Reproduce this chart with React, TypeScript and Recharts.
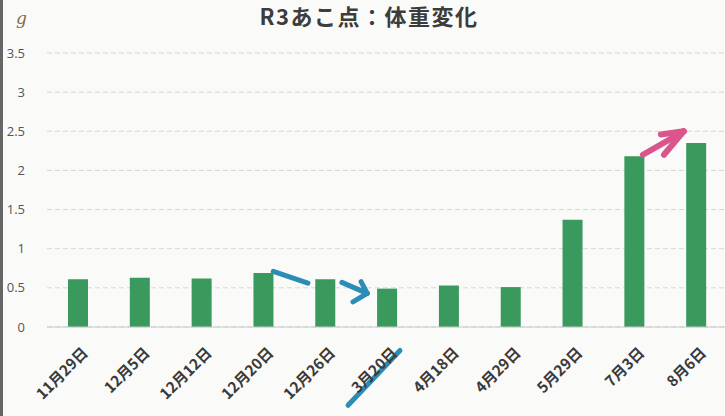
import React from "react";
import { BarChart, Bar, XAxis, YAxis, CartesianGrid, ReferenceLine } from "recharts";

const categories = ["11月29日", "12月5日", "12月12日", "12月20日", "12月26日", "3月20日", "4月18日", "4月29日", "5月29日", "7月3日", "8月6日"];
const weights = [0.61, 0.63, 0.62, 0.69, 0.61, 0.49, 0.53, 0.51, 1.37, 2.18, 2.35];
const yTicks = [0, 0.5, 1, 1.5, 2, 2.5, 3, 3.5];
const title = "R3あこ点：体重変化";
const unitLabel = "g";

// hand-drawn annotations, in data coordinates (x = band index position, y = value)
const blueStrokes = [
  [{ x: 3.66, y: 0.71 }, { x: 4.22, y: 0.56 }],
  [{ x: 4.77, y: 0.57 }, { x: 5.18, y: 0.43 }],
  [{ x: 5.08, y: 0.58 }, { x: 5.18, y: 0.43 }],
  [{ x: 4.95, y: 0.32 }, { x: 5.18, y: 0.43 }],
  [{ x: 4.87, y: -1.0 }, { x: 5.71, y: -0.3 }],
];
const pinkStrokes = [
  [{ x: 9.64, y: 2.2 }, { x: 10.3, y: 2.5 }],
  [{ x: 9.98, y: 2.2 }, { x: 10.3, y: 2.5 }],
  [{ x: 9.93, y: 2.46 }, { x: 10.3, y: 2.5 }],
];

const data = categories.map((c, i) => ({ name: c, value: weights[i], pos: i + 0.5 }));

const XTick = (props: any) => {
  const { x, y, payload } = props;
  const ax = x + 11;
  const ay = y + 19;
  return (
    <text
      x={ax}
      y={ay}
      textAnchor="end"
      transform={`rotate(-45, ${ax}, ${ay})`}
      fontSize={15}
      fontWeight={700}
      fill="#3a3a3a"
      fontFamily="'Noto Sans CJK JP', 'Noto Sans', sans-serif"
    >
      {payload.value}
    </text>
  );
};

export default function App() {
  return (
    <div
      style={{
        position: "absolute",
        left: 0,
        top: 0,
        width: 725,
        height: 416,
        overflow: "hidden",
        background: "#fafaf8",
      }}
    >
      <div style={{ position: "absolute", left: 0, top: 0, width: 3, height: 416, background: "#666" }} />
      <div
        style={{
          position: "absolute",
          left: 0,
          top: 3,
          width: 730,
          textAlign: "center",
          fontFamily: "'Noto Sans CJK JP', sans-serif",
          fontWeight: 700,
          fontSize: 22,
          lineHeight: "24px",
          color: "#3c3c3c",
          paddingLeft: 4,
          letterSpacing: 1.5,
        }}
      >
        {title}
      </div>
      <div
        style={{
          position: "absolute",
          left: 16,
          top: 8,
          fontFamily: "'DejaVu Serif', serif",
          fontStyle: "italic",
          fontSize: 17,
          color: "#8a6a50",
        }}
      >
        {unitLabel}
      </div>
      <BarChart
        width={727}
        height={416}
        data={data}
        margin={{ top: 53, right: 0, bottom: 0, left: 0 }}
        style={{ position: "absolute", left: 0, top: 0 }}
      >
        <CartesianGrid vertical={false} stroke="#d6d6d6" strokeDasharray="5 3" />
        <XAxis
          dataKey="name"
          height={89}
          interval={0}
          tick={<XTick />}
          tickLine={false}
          axisLine={{ stroke: "#c8c8c8" }}
        />
        <XAxis xAxisId="n" dataKey="pos" type="number" domain={[0, 11]} allowDataOverflow hide />
        <YAxis
          domain={[0, 3.5]}
          ticks={yTicks}
          width={47}
          tickSize={0}
          tickMargin={22}
          axisLine={false}
          tickLine={false}
          tick={{ fontSize: 13, fill: "#555", fontFamily: "'Open Sans', sans-serif" }}
        />
        <Bar dataKey="value" fill="#3a9a5e" barSize={20} isAnimationActive={false} />
        {blueStrokes.map((s, i) => (
          <ReferenceLine
            key={"b" + i}
            xAxisId="n"
            segment={s}
            stroke="#2a8db5"
            strokeWidth={5}
            strokeLinecap="round"
            ifOverflow="visible"
          />
        ))}
        {pinkStrokes.map((s, i) => (
          <ReferenceLine
            key={"p" + i}
            xAxisId="n"
            segment={s}
            stroke="#d9558c"
            strokeWidth={6}
            strokeLinecap="round"
            ifOverflow="visible"
          />
        ))}
      </BarChart>
    </div>
  );
}
